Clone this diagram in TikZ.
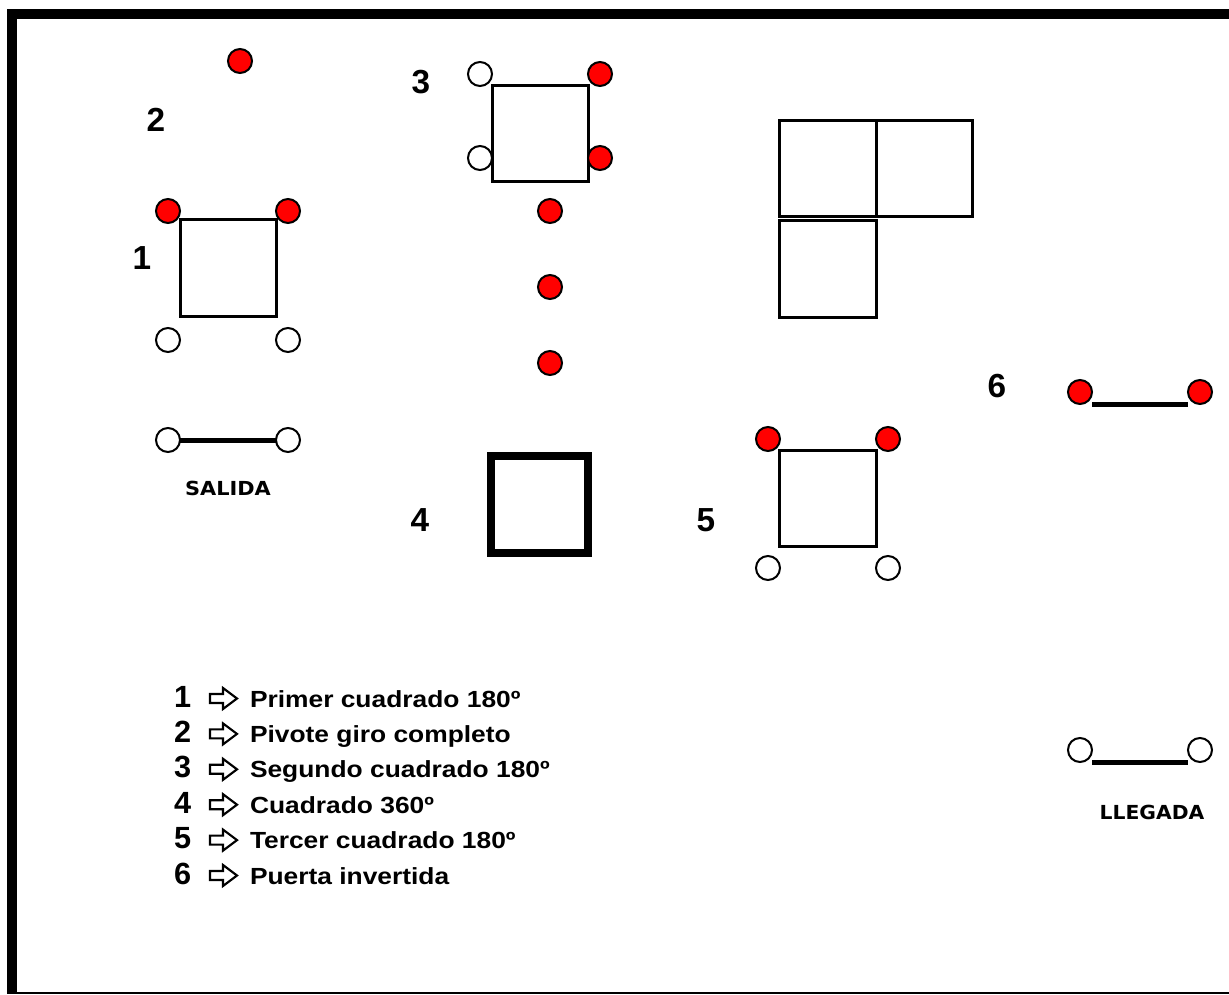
\documentclass[tikz,border=0pt]{standalone}
\usepackage{fontspec}
\setmainfont{Liberation Sans}
\newfontfamily\signfont{DejaVu Sans}

\tikzset{
  every node/.style={inner sep=0pt, outer sep=0pt},
  redcone/.style={circle, draw=black, line width=1.5pt, fill=red, minimum size=18pt},
  whitecone/.style={circle, draw=black, line width=1.5pt, fill=white, minimum size=18pt},
  box/.style={draw=black, line width=2.25pt},
  heavybox/.style={draw=black, line width=6pt},
  gate/.style={draw=black, line width=3.75pt},
  steplabel/.style={font=\fontsize{25}{25}\selectfont\bfseries},
  legnum/.style={font=\fontsize{23}{23}\selectfont\bfseries, anchor=base west},
  legtext/.style={anchor=base west},
  signtext/.style={font=\signfont\fontsize{14.5}{14.5}\selectfont\bfseries},
  legarrow/.style={draw=black, fill=white, line width=1.6pt, line join=miter}
}

\begin{document}
\begin{tikzpicture}[x=0.75pt, y=-0.75pt]
  \useasboundingbox (0,0) rectangle (1229,995);

  % frame: heavy top and left bands, thin bottom rule
  \fill[black] (7,9) rectangle (1229,19);
  \fill[black] (7,9) rectangle (17,994);
  \fill[black] (7,992) rectangle (1229,994);

  % step 1: first square
  \draw[box] (180,220) rectangle (276,316);
  \node[redcone] (a1) at (168,211) {};
  \node[redcone] (a2) at (288,211) {};
  \node[whitecone] (a3) at (168,340) {};
  \node[whitecone] (a4) at (288,340) {};
  \node[steplabel] (n1) at (142,258) {1};

  % step 2: pivot
  \node[redcone] (p1) at (240,61) {};
  \node[steplabel] (n2) at (156,120) {2};

  % start gate
  \node[whitecone] (s1) at (168,440) {};
  \node[whitecone] (s2) at (288,440) {};
  \draw[gate] (s1) -- (s2);
  \node[signtext] (salida) at (228,488) {\scalebox{1.08}[1]{SALIDA}};

  % step 3: second square
  \draw[box] (492,86) rectangle (588,182);
  \node[whitecone] (b1) at (480,74) {};
  \node[redcone] (b2) at (600,74) {};
  \node[whitecone] (b3) at (480,158) {};
  \node[redcone] (b4) at (600,158) {};
  \node[steplabel] (n3) at (421,82) {3};

  % column of cones
  \node[redcone] (r1) at (550,211) {};
  \node[redcone] (r2) at (550,287) {};
  \node[redcone] (r3) at (550,363) {};

  % step 4: full turn square
  \draw[heavybox] (491,456) rectangle (588,553);
  \node[steplabel] (n4) at (420,520) {4};

  % L-shaped block of squares
  \draw[box] (779,121) rectangle (876,217);
  \draw[box] (876,121) rectangle (972,217);
  \draw[box] (779,221) rectangle (876,317);

  % step 5: third square
  \draw[box] (779,450) rectangle (876,546);
  \node[redcone] (c1) at (768,439) {};
  \node[redcone] (c2) at (888,439) {};
  \node[whitecone] (c3) at (768,568) {};
  \node[whitecone] (c4) at (888,568) {};
  \node[steplabel] (n5) at (706,520) {5};

  % step 6: reversed gate
  \node[redcone] (g1) at (1080,392) {};
  \node[redcone] (g2) at (1200,392) {};
  \draw[gate] (g1.east |- g1.south) -- (g2.west |- g2.south);
  \node[steplabel] (n6) at (997,386) {6};

  % finish gate
  \node[whitecone] (f1) at (1080,750) {};
  \node[whitecone] (f2) at (1200,750) {};
  \draw[gate] (f1.east |- f1.south) -- (f2.west |- f2.south);
  \node[signtext] (llegada) at (1152,812) {\scalebox{1.05}[1]{LLEGADA}};

  % legend
  \foreach \i/\t in {1/Primer cuadrado 180º,
                     2/Pivote giro completo,
                     3/Segundo cuadrado 180º,
                     4/Cuadrado 360º,
                     5/Tercer cuadrado 180º,
                     6/Puerta invertida} {
    \pgfmathsetmacro{\yb}{707 + (\i-1)*35.4}
    \node[legnum] (k\i) at (174,\yb) {\i};
    \draw[legarrow] (210,\yb-13) -- (223,\yb-13) -- (223,\yb-19) -- (237,\yb-8.5)
                    -- (223,\yb+2) -- (223,\yb-4) -- (210,\yb-4) -- cycle;
    \node[legtext] (t\i) at (250,\yb)
      {\scalebox{1.13}[1]{\fontsize{17.5}{17.5}\selectfont\bfseries \t}};
  }
\end{tikzpicture}
\end{document}
